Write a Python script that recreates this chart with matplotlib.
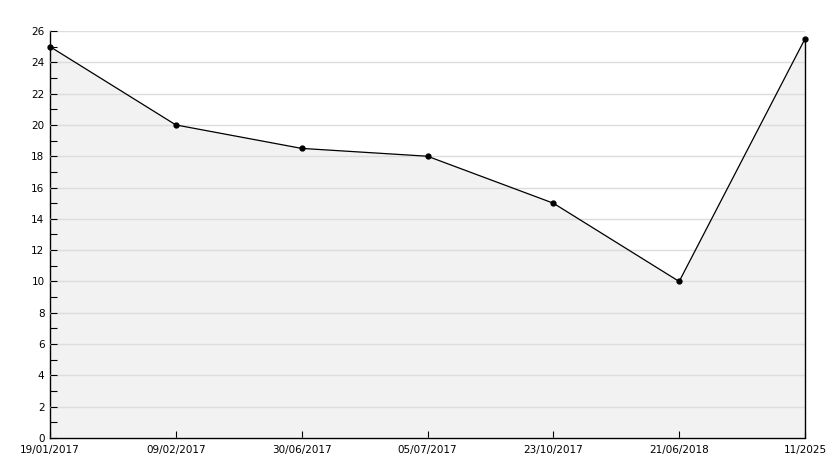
import matplotlib.pyplot as plt
from matplotlib.ticker import MultipleLocator

dates = ['19/01/2017', '09/02/2017', '30/06/2017', '05/07/2017',
         '23/10/2017', '21/06/2018', '11/2025']
values = [25, 20, 18.5, 18, 15, 10, 25.5]

x = list(range(len(dates)))

fig = plt.figure(figsize=(8.34, 4.68), dpi=100)
ax = fig.add_axes([50 / 834, 30 / 468, 755 / 834, 407 / 468])

ax.fill_between(x, values, 0, color='#f2f2f2', zorder=1)
ax.vlines(x[-1], 0, values[-1], color='black', lw=1, zorder=3, clip_on=False)
ax.plot(x, values, color='black', lw=0.9, marker='o', ms=3.5, zorder=4,
        clip_on=False)

ax.set_xlim(0, len(x) - 1)
ax.set_ylim(0, 26)
ax.set_xticks(x)
ax.set_xticklabels(dates)
ax.yaxis.set_major_locator(MultipleLocator(2))
ax.yaxis.set_minor_locator(MultipleLocator(1))
ax.grid(axis='y', color='#dddddd', lw=1, zorder=2)
ax.set_axisbelow(False)

for s in ['top', 'right']:
    ax.spines[s].set_visible(False)
ax.spines['left'].set_linewidth(1)
ax.spines['bottom'].set_linewidth(1)
ax.tick_params(direction='in', length=5, width=0.8, labelsize=7.5, pad=4)
ax.tick_params(which='minor', direction='in', length=5, width=0.8)
ax.tick_params(axis='x', pad=5)

fig.savefig('out.png', dpi=100)
